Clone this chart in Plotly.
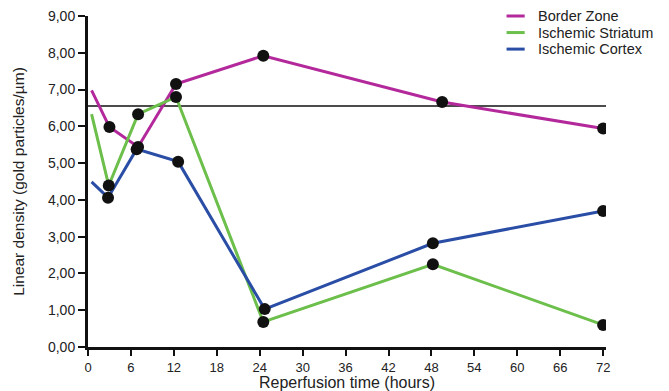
import plotly.graph_objects as go

# ---- data ----
series_names = ["Border Zone", "Ischemic Striatum", "Ischemic Cortex"]
border_hours = [0.5, 3, 7, 12.3, 24.5, 49.5, 72]
border_vals = [6.98, 5.98, 5.44, 7.15, 7.92, 6.66, 5.94]
striatum_hours = [0.5, 2.9, 7, 12.3, 24.5, 48.2, 72]
striatum_vals = [6.33, 4.39, 6.33, 6.80, 0.68, 2.25, 0.60]
cortex_hours = [0.5, 2.8, 6.8, 12.6, 24.7, 48.2, 72]
cortex_vals = [4.49, 4.06, 5.38, 5.04, 1.03, 2.82, 3.70]
reference_level = 6.55

x_ticks = [0, 6, 12, 18, 24, 30, 36, 42, 48, 54, 60, 66, 72]
y_ticks = [0, 1, 2, 3, 4, 5, 6, 7, 8, 9]
y_tick_labels = ["0,00", "1,00", "2,00", "3,00", "4,00", "5,00", "6,00", "7,00", "8,00", "9,00"]

colors = ["#B3299B", "#6CBF4B", "#2A4DA6"]
FONT = "Liberation Sans, Arial, sans-serif"

fig = go.Figure()

all_series = [(border_hours, border_vals), (striatum_hours, striatum_vals), (cortex_hours, cortex_vals)]

# reference horizontal line
fig.add_trace(go.Scatter(x=[0, 73], y=[reference_level, reference_level], mode="lines",
                         line=dict(color="#111111", width=1.5), showlegend=False, hoverinfo="skip"))

for (hx, hv), name, c in zip(all_series, series_names, colors):
    fig.add_trace(go.Scatter(x=hx, y=hv, mode="lines", name=name,
                             line=dict(color=c, width=3), showlegend=False))
for (hx, hv), name in zip(all_series, series_names):
    fig.add_trace(go.Scatter(x=hx[1:], y=hv[1:], mode="markers",
                             marker=dict(color="#111111", size=12), showlegend=False, hoverinfo="skip"))

# hand-made legend (paper coords)
legend_y = [1.0, 0.950, 0.900]
for name, c, ly in zip(series_names, colors, legend_y):
    fig.add_shape(type="line", xref="paper", yref="paper", x0=0.808, x1=0.843, y0=ly, y1=ly,
                  line=dict(color=c, width=3))
    fig.add_annotation(xref="paper", yref="paper", x=0.866, y=ly, text=name, showarrow=False,
                       xanchor="left", yanchor="middle", borderpad=0,
                       font=dict(family=FONT, size=14.5, color="#222222"))

fig.update_layout(
    width=669, height=391,
    margin=dict(l=88, r=63, t=16, b=44),
    plot_bgcolor="white", paper_bgcolor="white",
    font=dict(family=FONT, color="#222222"),
    showlegend=False,
)
fig.update_xaxes(range=[0, 72.4], tickvals=x_ticks, ticktext=[str(v) for v in x_ticks],
                 automargin=False,
                 showgrid=False, zeroline=False, showline=True, linecolor="#111111", linewidth=3,
                 ticks="outside", ticklen=6, tickwidth=2, tickcolor="#111111",
                 tickfont=dict(size=13, family=FONT, color="#222222"),
                 title=dict(text="Reperfusion time (hours)", font=dict(size=16, family=FONT, color="#222222"),
                            standoff=1))
fig.update_yaxes(range=[0, 9], tickvals=y_ticks, ticktext=y_tick_labels,
                 automargin=False,
                 showgrid=False, zeroline=False, showline=True, linecolor="#111111", linewidth=3,
                 ticks="outside", ticklen=7, tickwidth=2, tickcolor="#111111",
                 tickfont=dict(size=14, family=FONT, color="#222222"),
                 title=dict(text="Linear density (gold particles/µm)",
                            font=dict(size=15.5, family=FONT, color="#222222"), standoff=20))

fig.write_html("out.html", config={"displayModeBar": False},
               post_script="document.body.style.margin='0';")
